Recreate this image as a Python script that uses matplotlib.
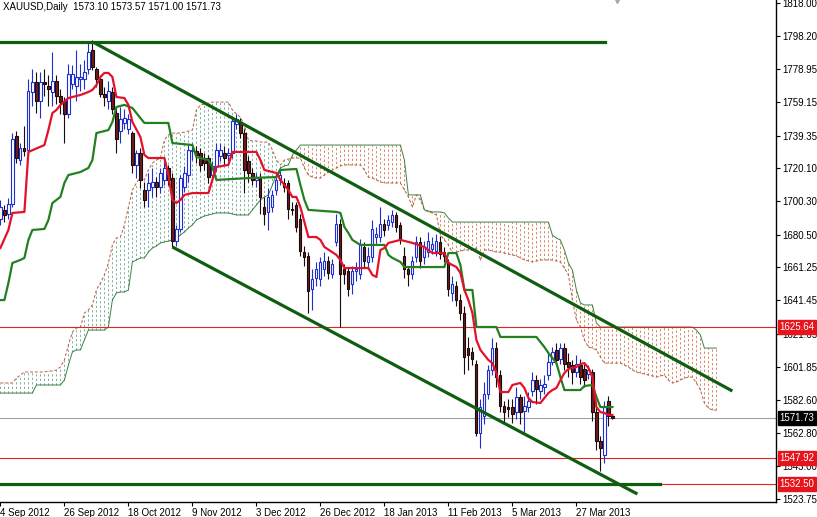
import numpy as np
import matplotlib
matplotlib.use("Agg")
import matplotlib.pyplot as plt

plt.rcParams['font.family'] = ['Liberation Sans', 'DejaVu Sans']

# ---------------- data ----------------
title_text = "XAUUSD,Daily  1573.10 1573.57 1571.00 1571.73"

opens = [1690, 1695, 1693, 1699, 1739, 1725, 1732, 1731, 1765, 1771,
         1760, 1771, 1769, 1765, 1772, 1763, 1760, 1752, 1770, 1769,
         1773, 1773, 1779, 1790, 1779, 1773, 1764, 1760, 1765, 1753,
         1742, 1747, 1743, 1741, 1722, 1729, 1707, 1707, 1709, 1712,
         1709, 1713, 1720, 1714, 1677, 1684, 1709, 1716, 1730, 1730,
         1729, 1726, 1726, 1716, 1721, 1727, 1729, 1728, 1729, 1746,
         1747, 1741, 1724, 1717, 1713, 1714, 1697, 1694, 1697, 1707,
         1713, 1711, 1711, 1696, 1698, 1690, 1670, 1668, 1648, 1655,
         1654, 1660, 1665, 1657, 1676, 1687, 1660, 1659, 1651, 1659,
         1657, 1673, 1664, 1667, 1679, 1679, 1687, 1686, 1688, 1692,
         1686, 1668, 1660, 1657, 1667, 1676, 1667, 1670, 1672, 1671,
         1676, 1670, 1664, 1646, 1650, 1642, 1634, 1613, 1611, 1604,
         1563, 1573, 1586, 1600, 1613, 1597, 1579, 1578, 1578, 1575,
         1584, 1576, 1578, 1588, 1594, 1588, 1590, 1597, 1605, 1612,
         1607, 1613, 1605, 1603, 1599, 1603, 1601, 1598, 1599, 1575,
         1558, 1550, 1582, 1573.10]
highs = [1701, 1698, 1702, 1741, 1742, 1735, 1745, 1773, 1779, 1777,
         1777, 1779, 1775, 1789, 1775, 1767, 1762, 1782, 1781, 1790,
         1782, 1784, 1794, 1796, 1780, 1775, 1768, 1772, 1768, 1757,
         1756, 1755, 1752, 1742, 1731, 1732, 1712, 1717, 1720, 1715,
         1720, 1724, 1722, 1717, 1686, 1716, 1721, 1734, 1735, 1733,
         1732, 1729, 1728, 1724, 1735, 1735, 1733, 1732, 1751, 1752,
         1750, 1743, 1727, 1720, 1717, 1717, 1703, 1708, 1707, 1716,
         1720, 1714, 1713, 1700, 1700, 1693, 1674, 1670, 1660, 1664,
         1667, 1670, 1668, 1666, 1693, 1690, 1663, 1661, 1662, 1664,
         1678, 1676, 1673, 1689, 1685, 1697, 1690, 1692, 1695, 1694,
         1688, 1673, 1662, 1668, 1680, 1679, 1677, 1682, 1679, 1681,
         1680, 1673, 1666, 1656, 1653, 1645, 1638, 1620, 1614, 1606,
         1583, 1593, 1603, 1619, 1617, 1600, 1582, 1583, 1583, 1590,
         1586, 1585, 1587, 1599, 1597, 1595, 1597, 1610, 1614, 1616,
         1616, 1616, 1610, 1606, 1609, 1607, 1604, 1603, 1601, 1578,
         1561, 1582, 1585, 1573.57]
lows = [1686, 1688, 1690, 1697, 1723, 1722, 1727, 1728, 1757, 1753,
        1750, 1763, 1757, 1757, 1758, 1752, 1735, 1750, 1767, 1760,
        1766, 1767, 1776, 1778, 1768, 1762, 1757, 1755, 1752, 1729,
        1735, 1743, 1740, 1717, 1714, 1708, 1697, 1697, 1703, 1703,
        1705, 1710, 1710, 1673, 1674, 1682, 1706, 1712, 1725, 1723,
        1718, 1719, 1711, 1712, 1718, 1724, 1722, 1724, 1726, 1743,
        1738, 1705, 1712, 1710, 1709, 1693, 1686, 1683, 1694, 1704,
        1710, 1706, 1690, 1692, 1682, 1668, 1662, 1634, 1636, 1650,
        1650, 1656, 1654, 1655, 1674, 1626, 1651, 1644, 1645, 1653,
        1654, 1661, 1660, 1664, 1675, 1676, 1680, 1683, 1685, 1682,
        1675, 1655, 1650, 1654, 1664, 1661, 1663, 1667, 1669, 1668,
        1666, 1664, 1644, 1641, 1638, 1630, 1598, 1600, 1603, 1561,
        1554, 1568, 1583, 1597, 1590, 1575, 1568, 1572, 1569, 1571,
        1568, 1563, 1575, 1585, 1580, 1583, 1586, 1594, 1603, 1603,
        1604, 1600, 1596, 1592, 1596, 1592, 1590, 1595, 1570, 1553,
        1540, 1545, 1567, 1571.00]
closes = [1697, 1692, 1699, 1737, 1726, 1732, 1730, 1766, 1771, 1760,
          1771, 1770, 1767, 1772, 1763, 1759, 1752, 1776, 1776, 1774,
          1774, 1777, 1789, 1780, 1773, 1764, 1762, 1766, 1755, 1737,
          1749, 1750, 1749, 1722, 1729, 1713, 1701, 1711, 1712, 1709,
          1717, 1720, 1713, 1677, 1684, 1714, 1717, 1731, 1731, 1728,
          1722, 1723, 1715, 1721, 1731, 1731, 1726, 1729, 1748, 1749,
          1741, 1719, 1717, 1713, 1714, 1703, 1693, 1703, 1704, 1713,
          1716, 1709, 1696, 1695, 1685, 1671, 1667, 1647, 1654, 1660,
          1664, 1665, 1658, 1663, 1687, 1657, 1657, 1648, 1659, 1660,
          1675, 1665, 1668, 1684, 1681, 1687, 1683, 1689, 1692, 1685,
          1678, 1660, 1657, 1665, 1676, 1665, 1673, 1677, 1675, 1677,
          1669, 1668, 1648, 1651, 1642, 1634, 1608, 1609, 1607, 1563,
          1578, 1586, 1600, 1613, 1596, 1579, 1575, 1577, 1574, 1584,
          1575, 1579, 1582, 1594, 1589, 1591, 1592, 1605, 1611, 1606,
          1613, 1604, 1602, 1599, 1604, 1596, 1594, 1600, 1575, 1558,
          1554, 1579, 1573, 1571.73]

# Tenkan-sen (red) vertices: bar index, price
tenkan_bar = [0, 2, 3, 6, 7, 11, 12, 13, 14, 15, 17, 20, 22, 23, 24, 25, 26, 27, 28, 29,
              31, 32, 33, 35, 36, 37, 41, 42, 43, 44, 45, 46, 48, 52, 53, 54, 57, 58, 64, 65,
              66, 69, 70, 72, 73, 74, 75, 76, 77, 79, 80, 81, 84, 85, 86, 92, 93, 94, 95, 96,
              97, 100, 103, 106, 108, 111, 112, 114, 115, 116, 117, 118, 119, 120, 122, 123, 124, 125, 127, 128,
              130, 131, 132, 133, 135, 136, 137, 138, 139, 140, 141, 142, 144, 145, 146, 147, 148, 149, 150, 151,
              152, 153]
tenkan_val = [1672.6, 1683.3, 1693.4, 1694.0, 1729.6, 1733.7, 1742.6, 1752.7, 1754.5, 1757.5,
              1761.6, 1763.4, 1765.2, 1766.4, 1769.3, 1774.1, 1776.5, 1776.5, 1774.1, 1762.2,
              1761.6, 1757.5, 1747.4, 1738.5, 1727.8, 1726.0, 1726.0, 1715.9, 1701.1, 1699.3,
              1701.1, 1704.1, 1705.2, 1705.2, 1713.0, 1720.7, 1721.9, 1729.6, 1729.6, 1724.8,
              1718.9, 1717.1, 1713.0, 1707.0, 1702.9, 1702.9, 1696.9, 1688.0, 1679.1, 1679.1,
              1677.4, 1673.2, 1668.5, 1665.5, 1660.7, 1660.7, 1656.6, 1655.4, 1671.4, 1672.6,
              1675.6, 1677.4, 1675.6, 1673.2, 1669.6, 1669.6, 1663.7, 1661.3, 1657.8, 1647.7,
              1641.7, 1634.0, 1618.0, 1612.1, 1606.1, 1604.3, 1598.4, 1587.1, 1587.1, 1591.3,
              1592.5, 1589.5, 1583.6, 1581.2, 1580.6, 1583.6, 1586.5, 1588.3, 1589.5, 1594.2,
              1598.4, 1600.8, 1602.0, 1603.7, 1604.3, 1601.4, 1596.0, 1578.2, 1575.2, 1574.7,
              1573.5, 1573.5]

# Kijun-sen (green) vertices
kijun_bar = [0, 1, 2, 3, 5, 6, 7, 8, 11, 12, 13, 15, 16, 17, 20, 22, 23, 24, 27, 28,
             29, 31, 33, 35, 36, 42, 43, 48, 49, 52, 53, 54, 62, 69, 70, 74, 75, 76, 77, 84,
             85, 86, 87, 88, 90, 96, 97, 98, 100, 101, 111, 112, 114, 115, 116, 118, 119, 124, 125, 134,
             136, 137, 139, 140, 141, 145, 146, 148, 149, 150, 153]
kijun_val = [1641.7, 1641.7, 1651.8, 1663.7, 1665.5, 1666.7, 1677.4, 1683.3, 1683.9, 1689.2,
             1699.3, 1702.9, 1711.2, 1715.9, 1717.7, 1720.1, 1724.8, 1740.8, 1742.6, 1747.4,
             1756.3, 1757.5, 1755.7, 1749.7, 1746.8, 1746.8, 1734.9, 1733.7, 1726.6, 1724.8,
             1720.7, 1713.0, 1714.1, 1714.7, 1718.9, 1719.5, 1710.0, 1701.1, 1695.2, 1694.0,
             1693.4, 1685.1, 1681.5, 1677.4, 1674.4, 1674.4, 1668.5, 1666.7, 1664.3, 1661.3,
             1661.3, 1669.6, 1669.6, 1662.5, 1647.7, 1647.7, 1625.7, 1625.7, 1619.8, 1619.8,
             1613.8, 1610.3, 1604.3, 1596.0, 1588.3, 1588.3, 1590.7, 1591.3, 1584.2, 1578.2,
             1578.2]

# Senkou span A (brown) and B (green), one value per bar (shifted 26 bars ahead)
span_a = [1592.5, 1592.5, 1592.5, 1592.5, 1595.4, 1597.2, 1599.0, 1599.0, 1599.0, 1599.0,
          1599.0, 1599.0, 1599.6, 1599.6, 1600.2, 1602.0, 1606.1, 1615.0, 1622.7, 1625.1,
          1625.7, 1634.0, 1635.8, 1638.8, 1647.7, 1651.8, 1656.6, 1663.7, 1674.4, 1678.5,
          1679.1, 1686.3, 1696.9, 1707.0, 1711.2, 1714.7, 1713.0, 1718.9, 1723.0, 1724.8,
          1726.0, 1736.7, 1739.7, 1740.8, 1740.8, 1740.8, 1741.4, 1742.0, 1742.6, 1754.5,
          1757.5, 1758.1, 1758.6, 1759.2, 1759.2, 1759.2, 1759.2, 1759.2, 1754.5, 1752.1,
          1750.3, 1745.6, 1736.7, 1736.1, 1736.1, 1735.5, 1735.5, 1735.5, 1730.8, 1724.8,
          1721.9, 1724.8, 1725.4, 1726.0, 1726.0, 1726.0, 1720.1, 1715.9, 1714.7, 1714.1,
          1714.1, 1715.9, 1717.7, 1718.9, 1720.1, 1721.3, 1721.9, 1721.9, 1721.9, 1721.9,
          1721.9, 1718.9, 1714.7, 1714.1, 1713.0, 1711.8, 1711.2, 1711.2, 1711.2, 1711.2,
          1711.2, 1707.0, 1702.9, 1696.9, 1704.1, 1701.1, 1695.2, 1694.0, 1693.4, 1692.2,
          1680.3, 1677.4, 1674.4, 1669.6, 1670.2, 1670.8, 1671.4, 1671.4, 1671.4, 1672.6,
          1665.5, 1671.4, 1671.4, 1670.8, 1670.2, 1670.2, 1669.6, 1669.0, 1668.5, 1667.9,
          1666.7, 1665.5, 1664.9, 1664.3, 1664.9, 1665.5, 1665.5, 1665.5, 1665.5, 1664.9,
          1664.3, 1660.7, 1656.6, 1641.7, 1629.9, 1625.7, 1618.0, 1613.8, 1613.2, 1612.1,
          1607.9, 1604.3, 1604.3, 1604.3, 1604.3, 1604.3, 1603.1, 1602.0, 1600.2, 1599.0,
          1598.4, 1597.8, 1597.2, 1596.7, 1596.0, 1596.7, 1597.2, 1594.2, 1592.5, 1593.1,
          1594.2, 1595.4, 1596.0, 1596.0, 1592.5, 1588.3, 1580.6, 1577.6, 1576.4, 1576.4]
span_b = [1586.5, 1586.5, 1586.5, 1586.5, 1586.5, 1586.5, 1586.5, 1586.5, 1586.5, 1591.3,
          1591.3, 1591.3, 1591.3, 1591.3, 1591.3, 1591.3, 1594.2, 1603.1, 1610.9, 1612.1,
          1612.1, 1618.0, 1623.9, 1623.9, 1623.9, 1623.9, 1623.9, 1625.7, 1641.7, 1645.9,
          1646.5, 1646.5, 1647.7, 1664.3, 1665.5, 1666.7, 1666.7, 1670.2, 1672.6, 1673.8,
          1675.6, 1676.2, 1676.7, 1677.4, 1678.5, 1680.3, 1682.1, 1684.5, 1686.3, 1689.2,
          1690.4, 1691.6, 1692.2, 1692.8, 1693.4, 1693.4, 1693.4, 1693.4, 1692.8, 1692.2,
          1692.2, 1692.2, 1692.2, 1695.2, 1698.1, 1701.1, 1702.9, 1704.1, 1710.0, 1715.9,
          1720.1, 1721.3, 1721.9, 1727.8, 1730.8, 1733.7, 1733.7, 1733.7, 1733.7, 1733.7,
          1733.7, 1733.7, 1733.7, 1733.7, 1733.7, 1733.7, 1733.7, 1733.7, 1733.7, 1733.7,
          1733.7, 1733.7, 1733.7, 1733.7, 1733.7, 1733.7, 1733.7, 1733.7, 1733.7, 1733.7,
          1733.7, 1724.8, 1704.1, 1704.1, 1704.1, 1704.1, 1695.2, 1694.6, 1694.0, 1694.0,
          1694.0, 1693.4, 1690.4, 1688.0, 1688.0, 1688.0, 1688.0, 1688.0, 1688.0, 1688.0,
          1688.0, 1688.0, 1688.0, 1688.0, 1688.0, 1688.0, 1688.0, 1688.0, 1688.0, 1688.0,
          1688.0, 1688.0, 1688.0, 1688.0, 1688.0, 1688.0, 1688.0, 1688.0, 1680.3, 1678.5,
          1677.4, 1671.4, 1663.7, 1659.5, 1647.7, 1640.0, 1638.8, 1638.8, 1638.8, 1628.1,
          1625.7, 1625.7, 1625.7, 1625.7, 1625.7, 1625.7, 1625.7, 1625.7, 1625.7, 1625.7,
          1625.7, 1625.7, 1625.7, 1625.7, 1625.7, 1625.7, 1625.7, 1625.7, 1625.7, 1625.7,
          1625.7, 1625.7, 1625.7, 1625.7, 1623.9, 1621.0, 1613.2, 1613.2, 1613.2, 1613.2]

# channel lines: (bar, price) end points
upper_channel_bar = [23.25, 183.0]
upper_channel_val = [1794.7, 1587.7]
lower_channel_bar = [43.0, 159.25]
lower_channel_val = [1673.2, 1526.6]
top_level = 1794.7
top_level_end_bar = 151.25
bottom_level = 1532.50
bottom_level_end_bar = 165.0

red_levels = [1625.64, 1547.92, 1532.50]
bid_level = 1571.73
shift_marker_bar = 154.25

date_labels = ["4 Sep 2012", "26 Sep 2012", "18 Oct 2012", "9 Nov 2012", "3 Dec 2012",
               "26 Dec 2012", "18 Jan 2013", "11 Feb 2013", "5 Mar 2013", "27 Mar 2013"]
date_bars = [0, 16, 32, 48, 64, 80, 96, 112, 128, 144]
price_ticks = [1818.00, 1798.20, 1778.95, 1759.15, 1739.35, 1720.10, 1700.30, 1680.50,
               1661.25, 1641.45, 1621.65, 1601.85, 1582.60, 1562.80, 1543.00, 1523.75]

# ---------------- figure ----------------
W, H = 817, 517
fig = plt.figure(figsize=(W / 100, H / 100), dpi=100)
ax = fig.add_axes([0, 15 / H, 776 / W, 502 / H])
ymin, ymax = 1521.85, 1819.78
ax.set_xlim(-0.1, 193.9)
ax.set_ylim(ymin, ymax)

o = np.array(opens, float); h = np.array(highs, float)
l = np.array(lows, float); c = np.array(closes, float)
idx = np.arange(len(o))

# Ichimoku cloud (vertical dotted histogram between the spans)
a = np.array(span_a); b = np.array(span_b)
ci = np.arange(len(a))
green = a >= b
ax.vlines(ci[green], b[green], a[green], colors='#74ae98', linewidth=0.65,
          linestyles=(0, (2.5, 2.5)), zorder=1)
ax.vlines(ci[~green], a[~green], b[~green], colors='#d4805c', linewidth=0.65,
          linestyles=(0, (2.5, 2.5)), zorder=1)
ax.plot(ci, a, color='#b4603c', lw=0.7, ls=(0, (3, 2)), zorder=1.5)
ax.plot(ci, b, color='#3f8048', lw=0.7, zorder=1.5)

# horizontal levels
for lv in red_levels:
    ax.axhline(lv, color='#e02424', lw=0.8, zorder=1.6)
ax.axhline(bid_level, color='#a0a0a0', lw=0.8, zorder=1.6)

# candles
up = c >= o
body_lo = np.minimum(o, c)
body_h = np.maximum(np.abs(c - o), 0.35)
ax.vlines(idx[up], l[up], h[up], color='#1e2fd0', lw=0.8, zorder=2)
ax.vlines(idx[~up], l[~up], h[~up], color='#1a0a0a', lw=0.8, zorder=2)
ax.bar(idx[up], body_h[up], bottom=body_lo[up], width=0.55, facecolor='white',
       edgecolor='#1e2fd0', linewidth=0.8, zorder=2.5)
ax.bar(idx[~up], body_h[~up], bottom=body_lo[~up], width=0.55, facecolor='#6e1c1c',
       edgecolor='#1a0a0a', linewidth=0.8, zorder=2.5)

# Tenkan / Kijun
ax.plot(kijun_bar, kijun_val, color='#22801f', lw=1.6, zorder=3)
ax.plot(tenkan_bar, tenkan_val, color='#e3122a', lw=1.6, zorder=3.1)

# channel and horizontal green lines
dg = '#0f5e10'
ax.plot(upper_channel_bar, upper_channel_val, color=dg, lw=2.3, zorder=4, solid_capstyle='butt')
ax.plot(lower_channel_bar, lower_channel_val, color=dg, lw=2.3, zorder=4, solid_capstyle='butt')
ax.plot([-0.1, top_level_end_bar], [top_level, top_level], color=dg, lw=2.3, zorder=4)
ax.plot([-0.1, bottom_level_end_bar], [bottom_level, bottom_level], color=dg, lw=2.3, zorder=4)

# chart-shift marker at the top edge
ax.plot([shift_marker_bar], [ymax], marker='v', markersize=5, color='#a8a8a8',
        clip_on=False, zorder=6)

# axes styling
for s in ['top', 'left']:
    ax.spines[s].set_visible(False)
for s in ['right', 'bottom']:
    ax.spines[s].set_color('black')
    ax.spines[s].set_linewidth(1.0)
ax.yaxis.tick_right()
ax.set_yticks(price_ticks)
ax.set_yticklabels([f"{p:.2f}" for p in price_ticks])
ax.tick_params(axis='y', direction='out', length=3, width=0.8, pad=1.5, labelsize=7, colors='black')
ax.set_xticks(date_bars)
ax.set_xticklabels(date_labels)
ax.tick_params(axis='x', direction='out', length=3, width=0.8, pad=1.0, labelsize=7)
for t in ax.get_xticklabels():
    t.set_ha('left')

# price tags on the axis (drawn over the tick labels, as in the terminal)
tags = [(1625.64, '#e8141c'), (1547.92, '#e8141c'), (1532.50, '#e8141c'), (1571.73, '#000000')]
for p, col in tags:
    ax.annotate(f"{p:.2f}", xy=(1.0, p), xycoords=('axes fraction', 'data'),
                xytext=(2.5, 0), textcoords='offset points', ha='left', va='center',
                fontsize=7, color='white', zorder=10, annotation_clip=False,
                bbox=dict(boxstyle='square,pad=0.18', facecolor=col, edgecolor=col))

ax.text(0.004, 0.996, title_text, transform=ax.transAxes, ha='left', va='top',
        fontsize=7, color='black')

fig.savefig('out.png', dpi=100, facecolor='white')
